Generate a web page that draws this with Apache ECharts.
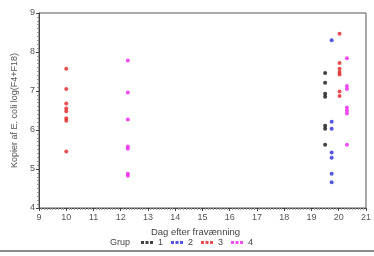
<!DOCTYPE html>
<html>
<head>
<meta charset="utf-8">
<script src="https://cdn.jsdelivr.net/npm/echarts@6/dist/echarts.min.js"></script>
<style>
  html, body { margin: 0; padding: 0; background: #fff; }
  #main { width: 374px; height: 256px; }
  .bottomline { position: absolute; left: 0; top: 250px; width: 374px; height: 2px; background: #8a8a8a; }
</style>
</head>
<body>
<div id="main"></div>
<div class="bottomline"></div>
<script>
// dage og vaerdier pr. gruppe (aflaest fra figuren)
var grupNavne = ['1', '2', '3', '4'];
var grupFarver = ['#111111', '#2a2ad8', '#e02424', '#ee22ee'];

var grup1Dag = [19.5, 19.5, 19.5, 19.5, 19.5, 19.5, 19.5];
var grup1Log = [7.46, 7.21, 6.93, 6.85, 6.11, 6.03, 5.62];

var grup2Dag = [19.74, 19.74, 19.74, 19.74, 19.74, 19.74, 19.74];
var grup2Log = [8.3, 6.21, 6.03, 5.42, 5.29, 4.88, 4.66];

var grup3Dag = [10, 10, 10, 10, 10, 10, 10, 10, 20.03, 20.03, 20.03, 20.03, 20.03, 20.03, 20.03];
var grup3Log = [7.57, 7.05, 6.68, 6.55, 6.48, 6.3, 6.24, 5.45, 8.47, 7.72, 7.57, 7.49, 7.42, 6.99, 6.87];

var grup4Dag = [12.26, 12.26, 12.26, 12.26, 12.26, 12.26, 12.26, 20.3, 20.3, 20.3, 20.3, 20.3, 20.3, 20.3];
var grup4Log = [7.78, 6.96, 6.27, 5.58, 5.52, 4.88, 4.83, 7.84, 7.13, 7.05, 6.58, 6.5, 6.42, 5.62];

function punkter(dag, log) {
    return dag.map(function (d, i) { return [d, log[i]]; });
}

var alleGrupper = [
    punkter(grup1Dag, grup1Log),
    punkter(grup2Dag, grup2Log),
    punkter(grup3Dag, grup3Log),
    punkter(grup4Dag, grup4Log)
];

var font = 'Liberation Sans, Arial, sans-serif';
var myChart = echarts.init(document.getElementById('main'));

var option = {
    animation: false,
    backgroundColor: '#fff',
    textStyle: { fontFamily: font },
    title: {
        text: 'Grup',
        left: 105,
        top: 233,
        textStyle: { fontSize: 9, fontWeight: 'normal', color: '#444', fontFamily: font }
    },
    legend: {
        data: grupNavne,
        left: 136,
        top: 233,
        itemWidth: 12,
        itemHeight: 3,
        itemGap: 8,
        icon: 'path://M0,0h3v3h-3z M4.5,0h3v3h-3z M9,0h3v3h-3z',
        textStyle: { fontSize: 9, color: '#444', fontFamily: font }
    },
    grid: {
        left: 39,
        right: 6,
        top: 13,
        height: 195,
        show: true,
        borderColor: '#555',
        borderWidth: 1
    },
    xAxis: {
        type: 'value',
        min: 9,
        max: 21,
        interval: 1,
        name: 'Dag efter fravænning',
        nameLocation: 'middle',
        nameGap: 19,
        nameTextStyle: { fontSize: 9.5, color: '#444', fontFamily: font, padding: [0, 14, 0, 0] },
        axisLine: { lineStyle: { color: '#444', width: 1 } },
        axisTick: { show: true, length: 3, lineStyle: { color: '#444' } },
        minorTick: { show: true, splitNumber: 10, length: 2, lineStyle: { color: '#999' } },
        axisLabel: { fontSize: 9, color: '#555', margin: 5, fontFamily: font },
        splitLine: { show: false }
    },
    yAxis: {
        type: 'value',
        min: 4,
        max: 9,
        interval: 1,
        name: 'Kopier af E. coli log(F4+F18)',
        nameLocation: 'middle',
        nameGap: 20,
        nameTextStyle: { fontSize: 9, color: '#555', fontFamily: font },
        axisLine: { show: true, lineStyle: { color: '#444', width: 1 } },
        axisTick: { show: true, length: 3, lineStyle: { color: '#444' } },
        minorTick: { show: true, splitNumber: 10, length: 2, lineStyle: { color: '#999' } },
        axisLabel: { fontSize: 9, color: '#555', margin: 4, fontFamily: font },
        splitLine: { show: false }
    },
    series: alleGrupper.map(function (data, i) {
        return {
            name: grupNavne[i],
            type: 'scatter',
            data: data,
            symbol: 'circle',
            symbolSize: 4,
            itemStyle: { color: grupFarver[i] }
        };
    })
};

myChart.setOption(option);
</script>
</body>
</html>
